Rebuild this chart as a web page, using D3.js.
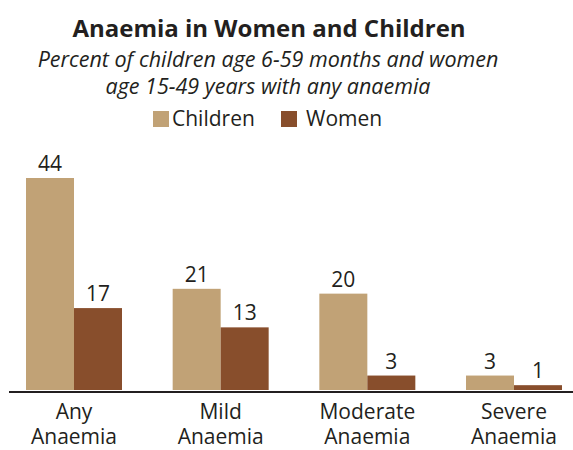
<!DOCTYPE html>
<html>
<head>
<meta charset="utf-8">
<script src="https://cdn.jsdelivr.net/npm/d3@7"></script>
<style>
  body { margin: 0; background: #fff; }
  text { font-family: "Open Sans", sans-serif; fill: #231f20; }
</style>
</head>
<body>
<svg id="chart"></svg>
<script>
const categories = [["Any", "Anaemia"], ["Mild", "Anaemia"], ["Moderate", "Anaemia"], ["Severe", "Anaemia"]];
const seriesNames = ["Children", "Women"];
const children = [44, 21, 20, 3];
const women = [17, 13, 3, 1];
const colors = ["#c1a276", "#884e2c"];

const width = 573, height = 450;
const svg = d3.select("#chart").attr("width", width).attr("height", height);

const x0 = d3.scaleBand().domain(d3.range(categories.length))
  .range([26, 562]).paddingInner(0.3455).paddingOuter(0);
const x1 = d3.scaleBand().domain(seriesNames).range([0, x0.bandwidth()]);
const y = d3.scaleLinear().domain([0, d3.max(children)]).range([390, 178]);

// titles
svg.append("text").attr("x", 269).attr("y", 37).attr("text-anchor", "middle")
  .style("font-weight", "bold").style("font-size", "24px")
  .text("Anaemia in Women and Children");
svg.append("text").attr("x", 268).attr("y", 67).attr("text-anchor", "middle")
  .style("font-style", "italic").style("font-size", "21.5px")
  .text("Percent of children age 6-59 months and women");
svg.append("text").attr("x", 268).attr("y", 94).attr("text-anchor", "middle")
  .style("font-style", "italic").style("font-size", "21.5px")
  .text("age 15-49 years with any anaemia");

// legend
const legendX = [153, 281];
const legendGap = [19, 25];
seriesNames.forEach((name, i) => {
  svg.append("rect").attr("x", legendX[i]).attr("y", 111)
    .attr("width", 16).attr("height", 16).attr("fill", colors[i]);
  svg.append("text").attr("x", legendX[i] + legendGap[i]).attr("y", 126)
    .style("font-size", "21px").text(name);
});

const rows = categories.map((c, i) => ({i: i, values: [children[i], women[i]]}));

const groups = svg.append("g").selectAll("g")
  .data(rows)
  .enter()
  .append("g")
  .attr("transform", d => "translate(" + x0(d.i) + ",0)");

groups.selectAll("rect")
  .data(d => d.values.map((v, k) => ({key: seriesNames[k], value: v, k: k})))
  .enter()
  .append("rect")
  .attr("x", d => x1(d.key))
  .attr("y", d => y(d.value))
  .attr("width", x1.bandwidth())
  .attr("height", d => y(0) - y(d.value))
  .attr("fill", d => colors[d.k]);

groups.selectAll("text.val")
  .data(d => d.values.map((v, k) => ({key: seriesNames[k], value: v})))
  .enter()
  .append("text")
  .attr("class", "val")
  .attr("x", d => x1(d.key) + x1.bandwidth() / 2)
  .attr("y", d => y(d.value) - 7)
  .attr("text-anchor", "middle")
  .style("font-size", "21px")
  .text(d => d.value);

// baseline
svg.append("line").attr("x1", 9).attr("x2", 573)
  .attr("y1", y(0) + 2).attr("y2", y(0) + 2)
  .attr("stroke", "#231f20").attr("stroke-width", 2);

// category labels
groups.append("text")
  .attr("x", x0.bandwidth() / 2)
  .attr("text-anchor", "middle")
  .style("font-size", "21px")
  .selectAll("tspan")
  .data(d => categories[d.i])
  .enter()
  .append("tspan")
  .attr("x", x0.bandwidth() / 2)
  .attr("y", (d, j) => 419 + j * 25)
  .text(d => d);
</script>
</body>
</html>
